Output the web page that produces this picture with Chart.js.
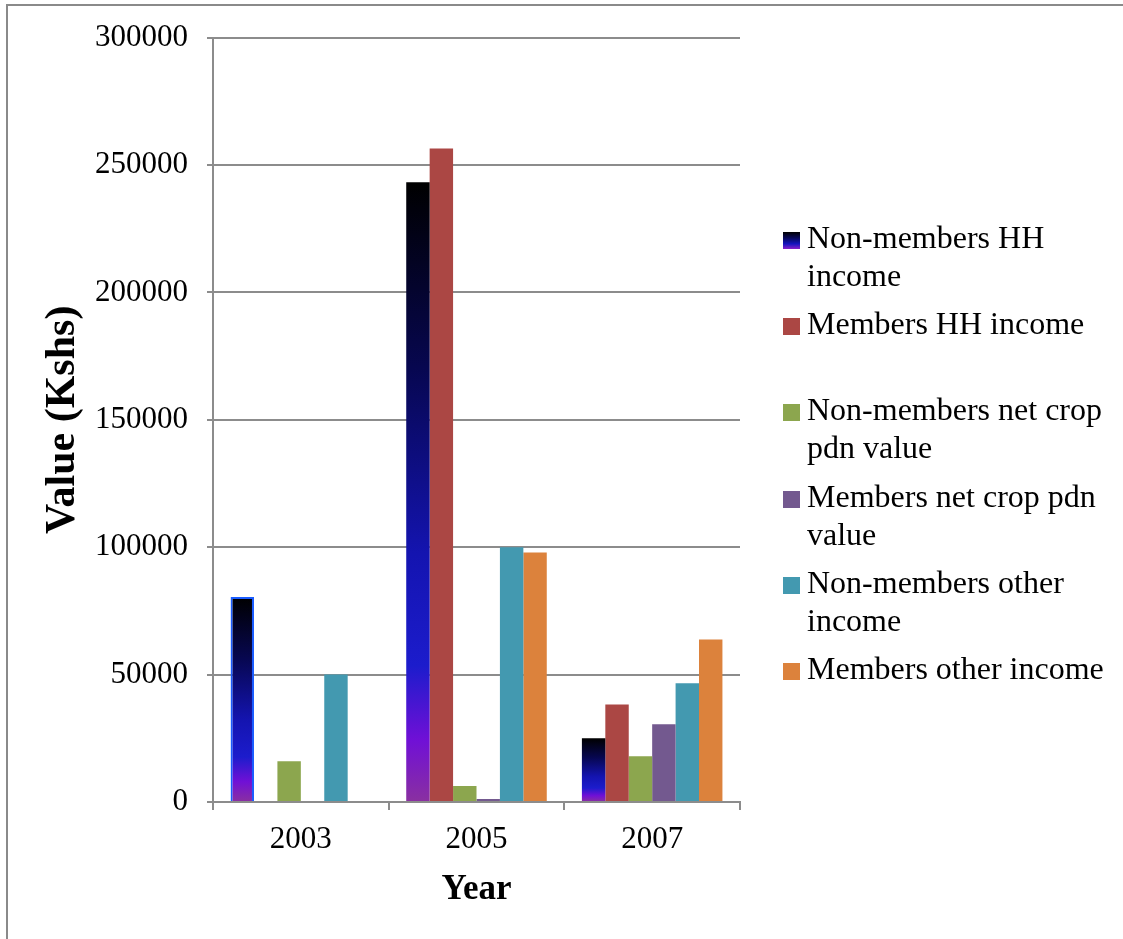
<!DOCTYPE html>
<html>
<head>
<meta charset="utf-8">
<script src="https://cdn.jsdelivr.net/npm/chart.js@4/dist/chart.umd.min.js"></script>
<style>
  html, body { margin: 0; padding: 0; background: #ffffff; }
  #wrap { position: relative; width: 1123px; height: 939px; overflow: hidden; background: #ffffff; }
  #frame { position: absolute; left: 6px; top: 4px; width: 1200px; height: 1000px;
           border-top: 2px solid #8a8a8a; border-left: 2px solid #8a8a8a; }
  canvas { position: absolute; left: 0; top: 0; }
  #legend { position: absolute; left: 782px; top: 218px; font-family: "Liberation Serif", "Times New Roman", serif;
            font-size: 32px; color: #000; }
  .item { position: relative; height: 86.2px; }
  .box { position: absolute; left: 1px; top: 14px; width: 17px; height: 17px; }
  .txt { position: absolute; left: 25px; top: 0; width: 320px; line-height: 38px; white-space: normal; }
</style>
</head>
<body>
<div id="wrap">
  <div id="frame"></div>
  <canvas id="c" width="1123" height="939"></canvas>
  <div id="legend"></div>
</div>
<script>
const years = ['2003', '2005', '2007'];
const seriesNames = [
  'Non-members HH income',
  'Members HH income',
  'Non-members net crop pdn value',
  'Members net crop pdn value',
  'Non-members other income',
  'Members other income'
];
const nonMembersHH    = [80500, 243200, 25000];
const membersHH       = [0, 256500, 38300];
const nonMembersCrop  = [16000, 6300, 18000];
const membersCrop     = [0, 1200, 30500];
const nonMembersOther = [50000, 100000, 46600];
const membersOther    = [0, 97900, 63800];
const yTicks = [0, 50000, 100000, 150000, 200000, 250000, 300000];

const seriesColors = ['#1212a0', '#ab4744', '#8ca64e', '#73598f', '#4399b0', '#dc823c'];
const GRAY = '#8c8c8c';
const FONT = '"Liberation Serif", "Times New Roman", serif';

function gradientFill(ctx) {
  const chart = ctx.chart;
  if (!chart.chartArea || ctx.type !== 'data') return seriesColors[0];
  const ys = chart.scales.y;
  const top = ys.getPixelForValue(ctx.raw);
  const bottom = ys.getPixelForValue(0);
  if (!(bottom - top > 1)) return seriesColors[0];
  const g = chart.ctx.createLinearGradient(0, top, 0, bottom);
  g.addColorStop(0.0, '#000000');
  g.addColorStop(0.3, '#070750');
  g.addColorStop(0.6, '#1414b0');
  g.addColorStop(0.78, '#1c1ccc');
  g.addColorStop(0.9, '#7010d6');
  g.addColorStop(1.0, '#8a30a0');
  return g;
}

const seriesValues = [nonMembersHH, membersHH, nonMembersCrop, membersCrop, nonMembersOther, membersOther];
const datasets = seriesNames.map((name, i) => ({
  label: name,
  data: seriesValues[i],
  backgroundColor: i === 0 ? gradientFill : seriesColors[i],
  borderColor: i === 0 ? '#1a5cff' : seriesColors[i],
  borderWidth: i === 0 ? (c => (c.dataIndex === 0 ? 2 : 0)) : 0,
  borderSkipped: 'bottom',
  categoryPercentage: 0.8,
  barPercentage: 1.0
}));

new Chart(document.getElementById('c'), {
  type: 'bar',
  data: { labels: years, datasets: datasets },
  options: {
    responsive: false,
    animation: false,
    layout: { padding: { top: 36, right: 383, bottom: 0, left: 0 } },
    plugins: { legend: { display: false }, tooltip: { enabled: false } },
    scales: {
      x: {
        afterFit: s => { s.height = 137; },
        grid: { display: true, drawOnChartArea: false, drawTicks: true, tickLength: 8, color: GRAY, lineWidth: 2, offset: true },
        border: { display: true, color: GRAY, width: 2 },
        ticks: { color: '#000', padding: 11, font: { family: FONT, size: 31 } },
        title: { display: true, text: 'Year', color: '#000',
                 font: { family: FONT, size: 35, weight: 'bold' }, padding: { top: 0, bottom: 28 } }
      },
      y: {
        min: 0, max: 300000,
        afterFit: s => { s.width = 213; },
        afterBuildTicks: s => { s.ticks = yTicks.map(v => ({ value: v })); },
        grid: { color: GRAY, lineWidth: 2, tickLength: 6, drawTicks: true },
        border: { display: true, color: GRAY, width: 2 },
        ticks: { color: '#000', padding: 19, font: { family: FONT, size: 31 }, callback: v => String(v) },
        title: { display: true, text: 'Value (Kshs)', color: '#000',
                 font: { family: FONT, size: 42, weight: 'bold' }, padding: { top: 38, bottom: 0 } }
      }
    }
  }
});

// HTML legend (wrapped text like the original)
const legendEl = document.getElementById('legend');
seriesNames.forEach((name, i) => {
  const item = document.createElement('div');
  item.className = 'item';
  const box = document.createElement('div');
  box.className = 'box';
  box.style.background = i === 0
    ? 'linear-gradient(#000000 0%, #08085a 35%, #1414c0 70%, #8a20c8 100%)'
    : seriesColors[i];
  const txt = document.createElement('div');
  txt.className = 'txt';
  txt.textContent = name;
  item.appendChild(box);
  item.appendChild(txt);
  legendEl.appendChild(item);
});
</script>
</body>
</html>
